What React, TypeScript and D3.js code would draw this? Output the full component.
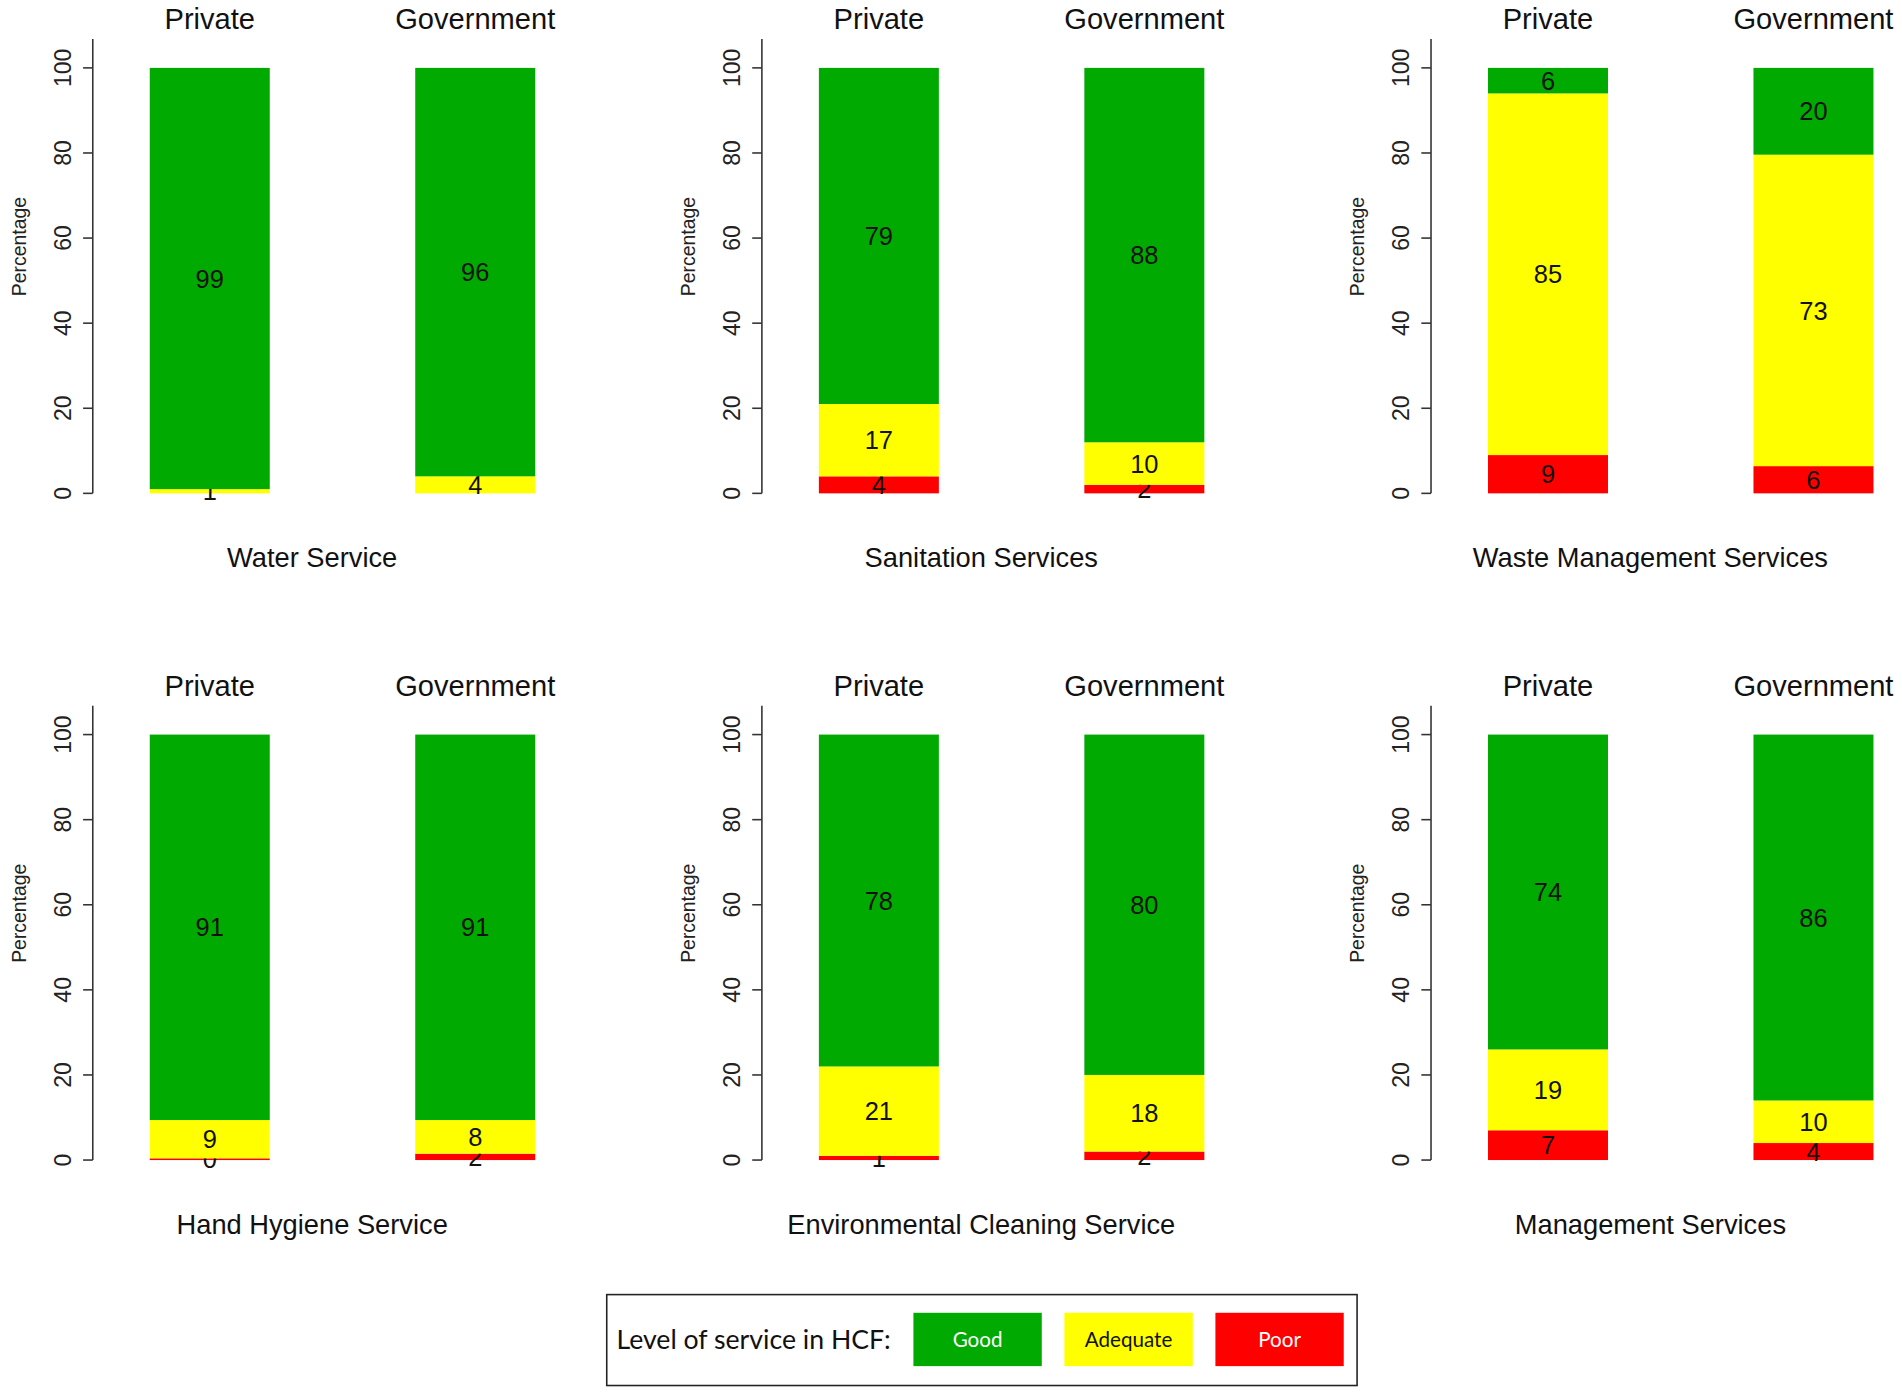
import { scaleBand, scaleLinear } from "d3";

// one entry per panel, in reading order
const services = [
  "Water Service",
  "Sanitation Services",
  "Waste Management Services",
  "Hand Hygiene Service",
  "Environmental Cleaning Service",
  "Management Services",
];
const sectors = ["Private", "Government"];

// [private, government] per service; null = category not reported
const poor: (number | null)[][] = [
  [null, null],
  [4, 2],
  [9, 6.4],
  [0.4, 1.5],
  [1, 2],
  [7, 4],
];
const adequate: number[][] = [
  [1, 4],
  [17, 10],
  [85, 73.2],
  [9, 7.9],
  [21, 18],
  [19, 10],
];
const good: number[][] = [
  [99, 96],
  [79, 88],
  [6, 20.4],
  [90.6, 90.6],
  [78, 80],
  [74, 86],
];

const yTicks = [0, 20, 40, 60, 80, 100];
const levels = ["Poor", "Adequate", "Good"];
const legendLabels = ["Good", "Adequate", "Poor"];
const colors: Record<string, string> = { Good: "#00AA00", Adequate: "#FFFF00", Poor: "#FF0000" };

const W = 1568;
const H = 1150;
const colX = [76, 628, 1180];
const rowY = [407, 957];
const font = "Arial, 'Liberation Sans', sans-serif";

function Panel({ index }: { index: number }) {
  const ax = colX[index % 3];
  const base = rowY[Math.floor(index / 3)];
  const y = scaleLinear().domain([0, 100]).range([base, base - 351]);
  const x = scaleBand<string>().domain(sectors).range([ax + 47, ax + 365]).paddingInner(0.548);
  const bw = x.bandwidth();

  return (
    <g>
      <line x1={ax} x2={ax} y1={y(0)} y2={y(106.8)} stroke="#333" strokeWidth={1.3} />
      {yTicks.map((t) => (
        <g key={t}>
          <line x1={ax - 8} x2={ax} y1={y(t)} y2={y(t)} stroke="#333" strokeWidth={1.3} />
          <text
            transform={`translate(${ax - 18},${y(t)}) rotate(-90)`}
            textAnchor="middle"
            fontSize={19}
            fill="#222"
            fontFamily={font}
          >
            {t}
          </text>
        </g>
      ))}
      <text
        transform={`translate(${ax - 55},${y(58)}) rotate(-90)`}
        textAnchor="middle"
        fontSize={16}
        fill="#222"
        fontFamily={font}
      >
        Percentage
      </text>
      {sectors.map((s, si) => {
        const vals = [poor[index][si], adequate[index][si], good[index][si]];
        let acc = 0;
        const cx = (x(s) ?? 0) + bw / 2;
        return (
          <g key={s}>
            <text x={cx} y={y(0) - 383} textAnchor="middle" fontSize={24} fill="#111" fontFamily={font}>
              {s}
            </text>
            {vals.map((v, li) => {
              if (v == null) return null;
              const lo = acc;
              acc += v;
              return (
                <g key={li}>
                  <rect
                    x={x(s)}
                    width={bw}
                    y={y(lo + v)}
                    height={y(lo) - y(lo + v)}
                    fill={colors[levels[li]]}
                  />
                  <text
                    x={cx}
                    y={y(lo + v / 2)}
                    dy="0.36em"
                    textAnchor="middle"
                    fontSize={21}
                    fill="#111"
                    fontFamily={font}
                  >
                    {Math.round(v)}
                  </text>
                </g>
              );
            })}
          </g>
        );
      })}
      <text x={ax + 181} y={base + 61} textAnchor="middle" fontSize={22.5} fill="#111" fontFamily={font}>
        {services[index]}
      </text>
    </g>
  );
}

function Legend() {
  const sw = scaleBand<string>().domain(legendLabels).range([753, 1108]).paddingInner(0.15);
  return (
    <g>
      <rect x={500} y={1068} width={619} height={75} fill="white" stroke="#222" strokeWidth={1.3} />
      <text x={508} y={1113} fontSize={22} fill="#111" fontFamily="Lato, 'Open Sans', sans-serif">
        Level of service in HCF:
      </text>
      {legendLabels.map((l) => (
        <g key={l}>
          <rect x={sw(l)} y={1083} width={sw.bandwidth()} height={44} fill={colors[l]} />
          <text
            x={(sw(l) ?? 0) + sw.bandwidth() / 2}
            y={1111}
            textAnchor="middle"
            fontSize={17}
            fill={l === "Adequate" ? "#111" : "white"}
            fontFamily="Lato, 'Open Sans', sans-serif"
          >
            {l}
          </text>
        </g>
      ))}
    </g>
  );
}

export default function App() {
  return (
    <svg
      width={1902}
      height={1394}
      viewBox={`0 0 ${W} ${H}`}
      style={{ position: "absolute", left: 0, top: 0, background: "white" }}
    >
      {services.map((_, i) => (
        <Panel key={i} index={i} />
      ))}
      <Legend />
    </svg>
  );
}
